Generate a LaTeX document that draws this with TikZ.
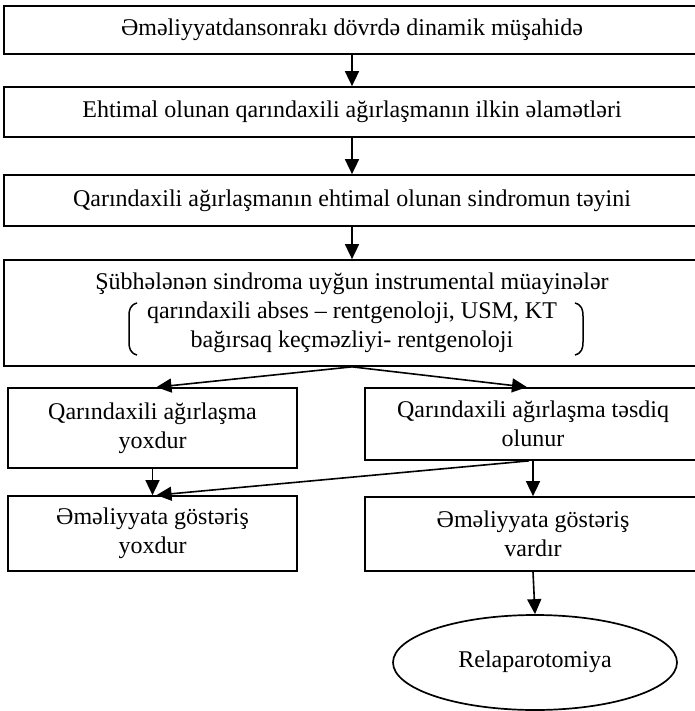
\documentclass[tikz,border=0pt]{standalone}
\usepackage{fontspec}
\setmainfont{Liberation Serif}
\usetikzlibrary{arrows.meta,shapes.geometric}
\begin{document}
\begin{tikzpicture}[x=1pt,y=-1pt,
  box/.style={draw,line width=1.7pt,inner sep=0pt,align=center,font=\fontsize{24}{29}\selectfont},
  arr/.style={line width=1.6pt,-{Triangle[length=15pt,width=14pt]}},
  brk/.style={line width=1.5pt}]
\useasboundingbox (0,0) rectangle (694,711);
\node[box,minimum width=696pt,minimum height=48pt] (b1) at (352,30) {Əməliyyatdansonrakı dövrdə dinamik müşahidə};
\node[box,minimum width=696pt,minimum height=50pt] (b2) at (352,112) {Ehtimal olunan qarındaxili ağırlaşmanın ilkin əlamətləri};
\node[box,minimum width=696pt,minimum height=51pt] (b3) at (352,200.5) {Qarındaxili ağırlaşmanın ehtimal olunan sindromun təyini};
\node[box,minimum width=696pt,minimum height=106pt] (b4) at (352,313) {Şübhələnən sindroma uyğun instrumental müayinələr\\qarındaxili abses – rentgenoloji, USM, KT\\bağırsaq keçməzliyi- rentgenoloji};
\node[box,minimum width=289pt,minimum height=80pt] (l1) at (152.5,428) {Qarındaxili ağırlaşma\\yoxdur};
\node[box,minimum width=336pt,minimum height=72pt] (r1) at (533,424) {Qarındaxili ağırlaşma təsdiq\\olunur};
\node[box,minimum width=289pt,minimum height=75pt] (l2) at (152.5,533.5) {Əməliyyata göstəriş\\yoxdur};
\node[box,minimum width=336pt,minimum height=74pt] (r2) at (533,534) {Əməliyyata göstəriş\\vardır};
\node[box,ellipse,minimum width=284pt,minimum height=95pt] (e) at (535,662.5) {\raisebox{6pt}{Relaparotomiya}};
% brackets
\draw[brk] (137,303) .. controls (130,305) and (129,310) .. (129,316) -- (129,342) .. controls (129,348) and (130,353) .. (137,355);
\draw[brk] (575,303) .. controls (582,305) and (583,310) .. (583,316) -- (583,342) .. controls (583,348) and (582,353) .. (575,355);
% connectors
\draw[arr] (b1) -- (b2);
\draw[arr] (b2) -- (b3);
\draw[arr] (b3) -- (b4);
\draw[arr] (b4.south) -- ([xshift=4pt]l1.north);
\draw[arr] (b4.south) -- ([xshift=-6pt]r1.north);
\draw[arr] (l1.south) -- (l2.north);
\draw[arr] ([xshift=-4pt]r1.south) -- ([xshift=4pt]l2.north);
\draw[arr] (r1.south) -- (r2.north);
\draw[arr] (r2.south) -- (e.north);
\end{tikzpicture}
\end{document}
